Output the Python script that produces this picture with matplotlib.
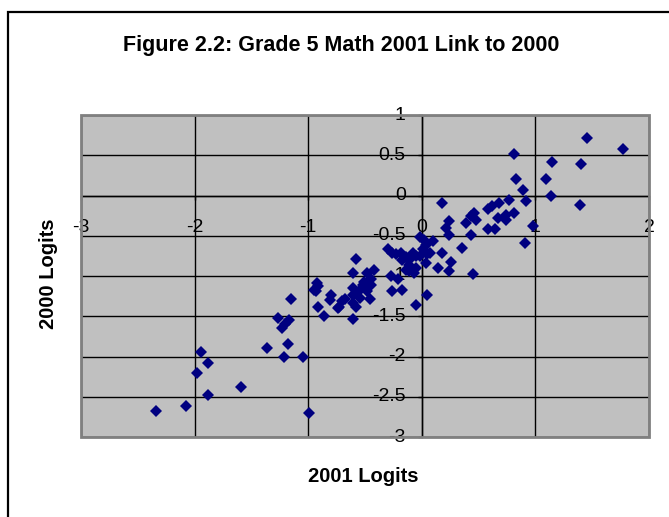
import matplotlib
matplotlib.use('Agg')
import matplotlib.pyplot as plt
from matplotlib.patches import Rectangle
from matplotlib.transforms import ScaledTranslation

# ---- data ----
logits_2001 = [
    -2.34, -2.08, -1.88, -1.98, -1.94, -1.88, -1.59, -1.36, -1.21, -1.18,
    -1.05, -0.99, -1.27, -1.23, -1.17, -1.20, -1.15, -0.92, -0.91, -0.93,
    -0.95, -0.91, -0.86, -0.80, -0.81, -0.74, -0.70, -0.68, -0.73, -0.61,
    -0.61, -0.61, -0.61, -0.61, -0.58, -0.58, -0.52, -0.54, -0.51, -0.55,
    -0.48, -0.45, -0.42, -0.48, -0.45, -0.46, -0.30, -0.26, -0.23, -0.18,
    -0.14, -0.17, -0.11, -0.11, -0.05, -0.08, -0.05, -0.02, 0.02, 0.04,
    0.07, 0.10, 0.01, -0.02, 0.05, 0.04, -0.07, -0.14, -0.27, -0.21,
    -0.26, -0.17, -0.05, 0.05, 0.18, 0.24, 0.21, 0.24, 0.39, 0.43,
    0.48, 0.43, 0.35, 0.18, 0.26, 0.14, 0.24, 0.45, 0.58, 0.58,
    0.64, 0.68, 0.67, 0.74, 0.74, 0.77, 0.81, 0.83, 0.89, 0.92,
    0.98, 0.91, 0.81, 1.09, 1.15, 1.14, 1.45, 1.40, 1.39, 1.77,
    0.46, 0.62, -0.11,
]
logits_2000 = [
    -2.68, -2.62, -2.48, -2.21, -1.95, -2.08, -2.38, -1.90, -2.01, -1.85,
    -2.01, -2.70, -1.52, -1.65, -1.55, -1.60, -1.28, -1.09, -1.12, -1.19,
    -1.17, -1.38, -1.50, -1.23, -1.30, -1.40, -1.31, -1.29, -1.38, -0.96,
    -1.15, -1.24, -1.33, -1.53, -0.79, -1.39, -1.11, -1.27, -1.07, -1.19,
    -0.96, -1.04, -0.92, -1.19, -1.11, -1.29, -0.67, -0.71, -0.73, -0.71,
    -0.77, -0.80, -0.86, -0.94, -0.90, -0.71, -0.75, -0.51, -0.55, -0.61,
    -0.71, -0.57, -0.67, -0.75, -0.73, -0.84, -0.96, -0.92, -1.00, -1.04,
    -1.19, -1.17, -1.36, -1.23, -0.09, -0.32, -0.40, -0.49, -0.34, -0.26,
    -0.30, -0.49, -0.65, -0.71, -0.82, -0.90, -0.94, -0.98, -0.17, -0.42,
    -0.42, -0.09, -0.28, -0.30, -0.24, -0.05, -0.22, 0.20, 0.07, -0.07,
    -0.38, -0.59, 0.52, 0.21, 0.41, -0.01, 0.71, 0.39, -0.12, 0.58,
    -0.22, -0.13, -0.80,
]
x_ticks = [-3, -2, -1, 0, 1, 2]
x_tick_labels = ['-3', '-2', '-1', '0', '1', '2']
y_ticks = [-3, -2.5, -2, -1.5, -1, -0.5, 0, 0.5, 1]
y_tick_labels = ['-3', '-2.5', '-2', '-1.5', '-1', '-0.5', '0', '0.5', '1']
title = 'Figure 2.2: Grade 5 Math 2001 Link to 2000'
x_label = '2001 Logits'
y_label = '2000 Logits'

plt.rcParams['font.family'] = ['Liberation Sans', 'DejaVu Sans']

W, H = 669, 517
fig = plt.figure(figsize=(W / 100, H / 100), dpi=100)
fig.patch.set_facecolor('white')

# outer chart border (extends past right/bottom edges like the reference)
fig.patches.append(Rectangle((8 / W, -0.2), 1.2, 1 - 12 / H + 0.2,
                             transform=fig.transFigure, fill=False,
                             ec='black', lw=1.6, zorder=0))

ax = fig.add_axes([81 / W, (H - 437) / H, 568 / W, 322 / H])
ax.set_facecolor('#c0c0c0')
ax.set_xlim(-3, 2)
ax.set_ylim(-3, 1)
ax.set_xticks(x_ticks)
ax.set_xticklabels(x_tick_labels)
ax.set_yticks(y_ticks)
ax.set_yticklabels(y_tick_labels)
ax.grid(True, color='black', lw=1.0)
ax.set_axisbelow(True)

for s in ['top', 'right']:
    ax.spines[s].set_visible(False)
ax.spines['left'].set_position(('data', 0))
ax.spines['bottom'].set_position(('data', 0))
for s in ['left', 'bottom']:
    ax.spines[s].set_color('black')
    ax.spines[s].set_linewidth(1.0)

ax.add_patch(Rectangle((0, 0), 1, 1, transform=ax.transAxes, fill=False,
                       ec='#808080', lw=2, clip_on=False, zorder=6))

ax.tick_params(axis='x', direction='out', length=3, width=1, pad=14,
               labelsize=14, colors='black')
ax.tick_params(axis='y', direction='out', length=3, width=1, pad=8.5,
               labelsize=14, colors='black')

# nudge y tick labels slightly upward, as in the reference
shift = ScaledTranslation(0, 2 / 100, fig.dpi_scale_trans)
for lab in ax.get_yticklabels():
    lab.set_transform(lab.get_transform() + shift)

ax.plot(logits_2001, logits_2000, linestyle='none', marker='D',
        color='#000080', ms=6, mew=0, zorder=4, clip_on=False)

fig.text(341 / W, 1 - 45 / H, title, ha='center', va='center',
         fontsize=15.5, fontweight='bold')
fig.text(363 / W, 1 - 477 / H, x_label, ha='center', va='center',
         fontsize=14.5, fontweight='bold')
fig.text(48 / W, 1 - 274 / H, y_label, ha='center', va='center',
         rotation=90, fontsize=14.5, fontweight='bold')

fig.savefig('out.png', dpi=100)
